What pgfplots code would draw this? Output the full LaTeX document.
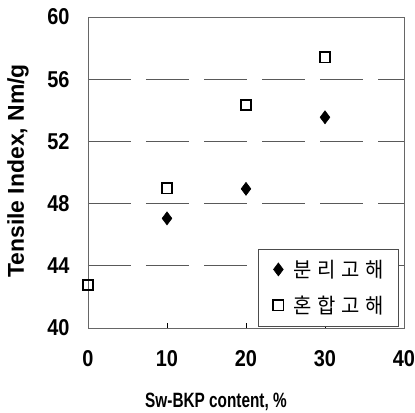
\documentclass[border=0pt]{standalone}
\usepackage{pgfplots}
\pgfplotsset{compat=1.18}
\usepackage{graphicx}
\usepackage{fontspec}
\setmainfont{Liberation Sans}
\newfontfamily\kr[LetterSpace=28]{Noto Sans CJK KR}
% the scanned figure is a little stretched vertically
\newcommand\st[1]{\scalebox{1}[1.15]{#1}}

\begin{document}
\begin{tikzpicture}
\begin{axis}[
    width=316bp, height=311bp, scale only axis,
    xmin=0, xmax=40, ymin=40, ymax=60,
    clip=false,
    xtick={0,10,20,30,40},
    xticklabels={\st{0},\st{10},\st{20},\st{30},\st{40}},
    ytick={40,44,48,52,56,60},
    yticklabels={\st{40},\st{44},\st{48},\st{52},\st{56},\st{60}},
    minor ytick={44,48,52,56},
    yminorgrids,
    minor grid style={black!65, line width=0.7bp, dash pattern=on 43bp off 15bp},
    axis line style={black!60, line width=0.6bp},
    tick align=inside,
    xtick pos=left,
    major tick length=5bp,
    xtick style={black, line width=0.8bp},
    ytick style={draw=none},
    minor tick length=0pt,
    xticklabel style={font=\bfseries\fontsize{20}{20}\selectfont, anchor=base, yshift=-38bp},
    yticklabel style={font=\bfseries\fontsize{20}{20}\selectfont, anchor=east, xshift=-15bp},
    xlabel={\scalebox{1}[1.35]{Sw-BKP content, \%}},
    xlabel style={font=\bfseries\fontsize{15.4}{15.4}\selectfont, at={(rel axis cs:0.405,0)}, anchor=base, yshift=-79bp},
    ylabel={Tensile Index, Nm/g},
    ylabel style={font=\bfseries\fontsize{23}{23}\selectfont, at={([xshift=-64bp]rel axis cs:0,0.505)}, anchor=base},
    legend image code/.code={\draw[#1] plot coordinates {(0bp,0bp)};},
    legend style={at={(rel axis cs:0.984,0.006)}, anchor=south east,
        draw=black!70, line width=0.6bp, fill=white,
        inner xsep=15bp, inner ysep=11bp, row sep=17bp, column sep=10bp,
        nodes={inner sep=0pt},
        font=\kr\fontsize{20}{20}\selectfont},
    legend cell align=left,
]
\addplot[only marks, mark=diamond*, mark size=6.5pt,
    mark options={black, fill=black, line width=0.6bp}]
    coordinates {(10,47.05) (20,48.95) (30,53.55)};
\addlegendentry{\scalebox{1}[1.05]{분리고해}}
\addplot[only marks, mark=square, mark size=5.2pt,
    mark options={black, fill=white, line width=1.8bp}]
    coordinates {(0,42.77) (10,48.98) (20,54.34) (30,57.41)};
\addlegendentry{\scalebox{1}[1.05]{혼합고해}}
\end{axis}
\pgfresetboundingbox
\path ([shift={(-88bp,-85bp)}]current axis.south west) rectangle ([shift={(11bp,17bp)}]current axis.north east);
\end{tikzpicture}
\end{document}
